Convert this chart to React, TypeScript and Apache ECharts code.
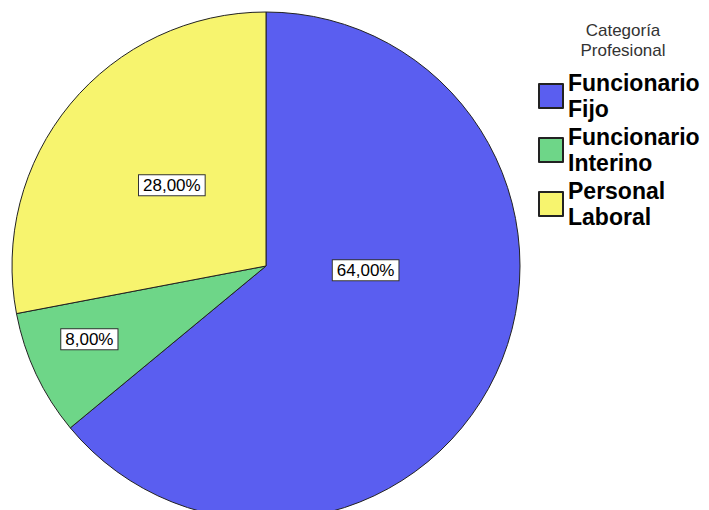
import React, { useEffect, useRef } from "react";
import * as echarts from "echarts";

const categories = ["Funcionario\nFijo", "Funcionario\nInterino", "Personal\nLaboral"];
const values = [64, 8, 28];
const colors = ["#5a5ef0", "#6ed688", "#f7f46e"];
const labelOffsets: [number, number][] = [[-18, -51], [-59, 18], [6, 2]];
const legendTitle = "Categoría\nProfesional";

export default function App() {
  const ref = useRef<HTMLDivElement>(null);
  useEffect(() => {
    if (!ref.current) return;
    const chart = echarts.init(ref.current, undefined, { renderer: "svg" });
    const total = values.reduce((a, b) => a + b, 0);
    chart.setOption({
      animation: false,
      backgroundColor: "#ffffff",
      title: {
        text: legendTitle,
        left: 618,
        top: 15,
        textAlign: "center",
        textStyle: {
          fontFamily: "Liberation Sans",
          fontSize: 17,
          fontWeight: "normal",
          color: "#333333",
          lineHeight: 20,
        },
      },
      legend: {
        orient: "vertical",
        left: 533,
        top: 65,
        itemWidth: 24,
        itemHeight: 24,
        itemGap: 2,
        icon: "rect",
        data: categories,
        textStyle: {
          fontFamily: "Liberation Sans",
          fontSize: 23,
          fontWeight: "bold",
          color: "#000000",
          lineHeight: 26,
        },
      },
      series: [
        {
          type: "pie",
          center: [266, 266],
          radius: 254,
          startAngle: 90,
          clockwise: true,
          avoidLabelOverlap: false,
          labelLine: { show: false },
          itemStyle: { borderColor: "#222222", borderWidth: 1 },
          emphasis: { disabled: true },
          data: categories.map((name, i) => ({
            name,
            value: values[i],
            itemStyle: { color: colors[i] },
            label: { offset: labelOffsets[i] },
          })),
          label: {
            show: true,
            position: "inside",
            formatter: (p: any) => ((p.value / total) * 100).toFixed(2).replace(".", ",") + "%",
            fontFamily: "Liberation Sans",
            fontSize: 17,
            color: "#000000",
            backgroundColor: "#ffffff",
            borderColor: "#333333",
            borderWidth: 1,
            padding: [2, 4, 1, 4],
          },
        },
      ],
    });
    return () => chart.dispose();
  }, []);
  return (
    <div
      ref={ref}
      style={{ position: "fixed", left: 0, top: 0, width: 709, height: 510 }}
    />
  );
}
